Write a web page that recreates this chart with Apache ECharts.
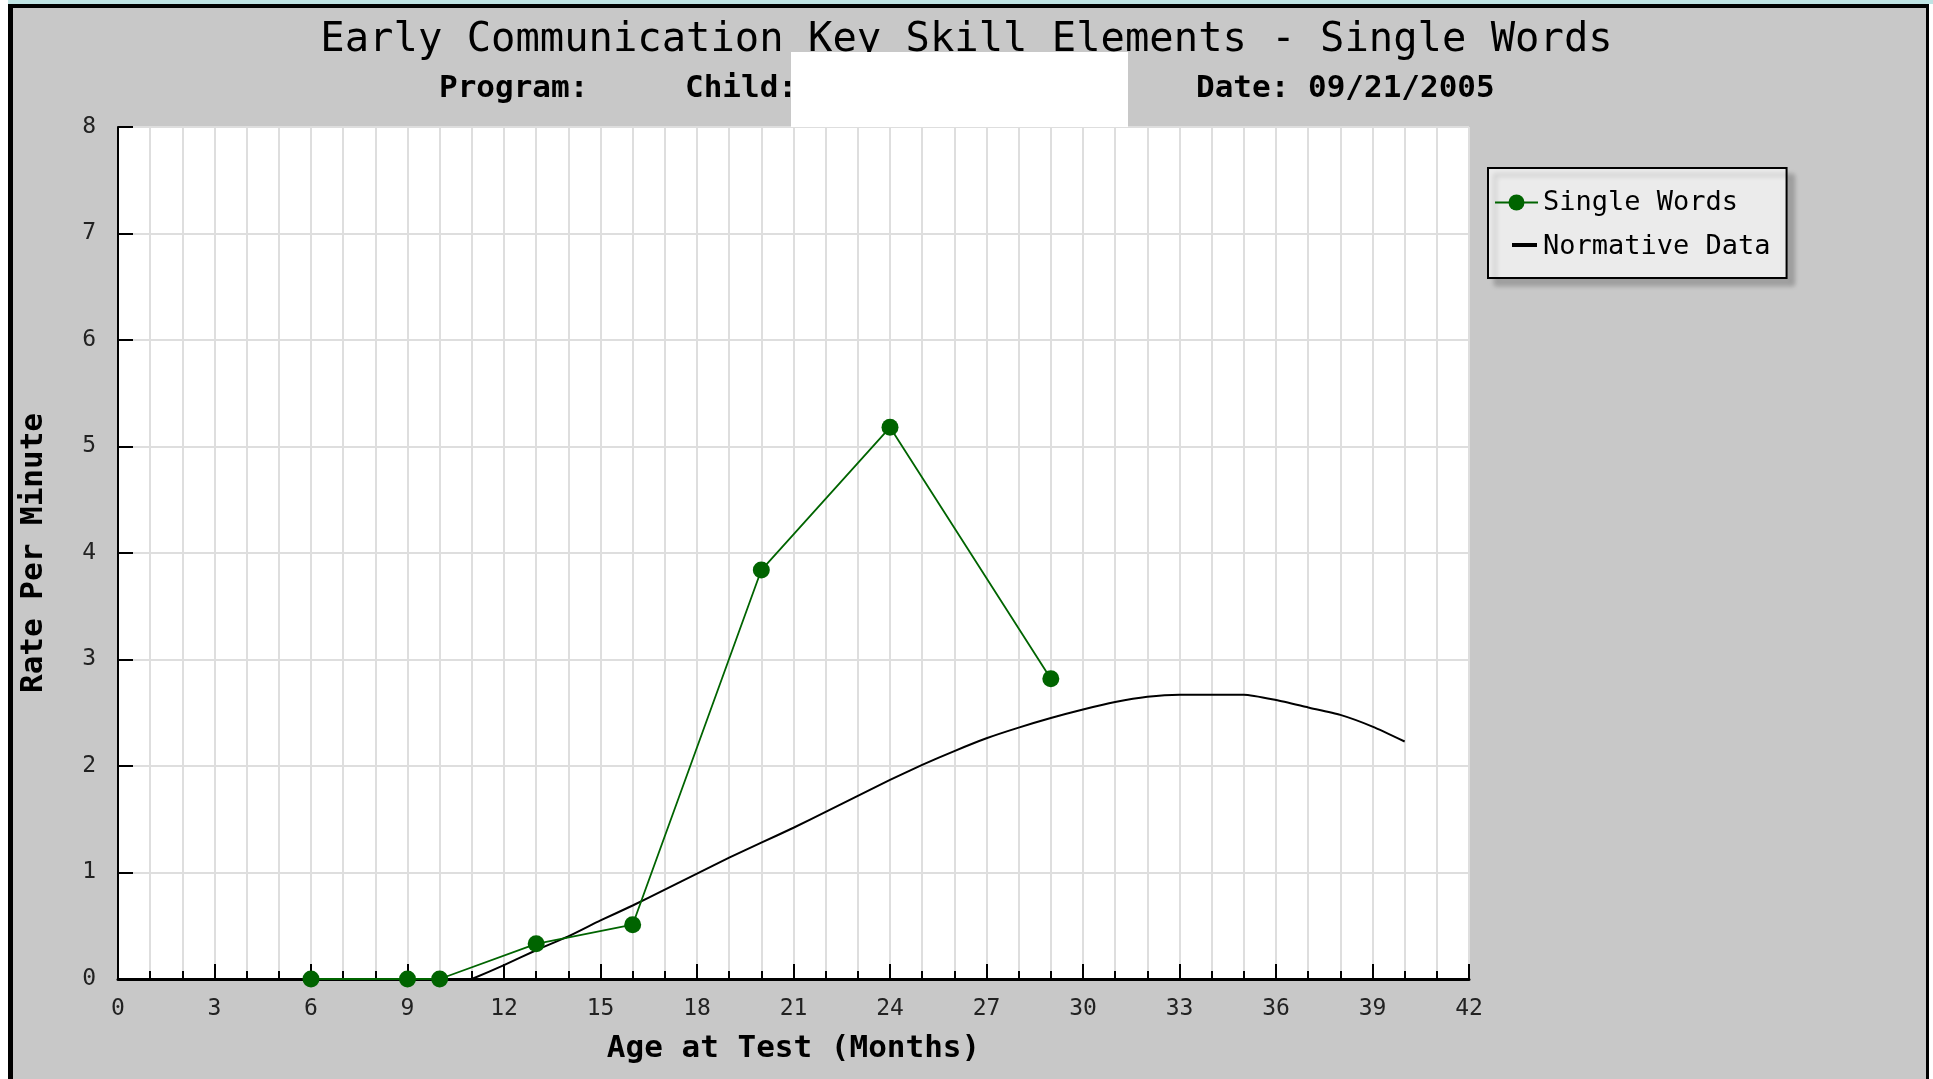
<!DOCTYPE html>
<html>
<head>
<meta charset="utf-8">
<script src="https://cdn.jsdelivr.net/npm/echarts@6/dist/echarts.min.js"></script>
<style>
  body { margin: 0; background: #fff; overflow: hidden; }
  #strip { position: absolute; left: 8px; top: 0; width: 1925px; height: 4px; background: #bfe3e3; }
  #frame { position: absolute; left: 8px; top: 4px; width: 1921px; height: 1075px; background: #c8c8c8;
           border-left: 5px solid #000; border-top: 4px solid #000; border-right: 3px solid #000; box-sizing: border-box; }
  #visualisation { position: absolute; left: 0; top: 0; width: 1933px; height: 1079px; }
</style>
</head>
<body>
<div id="strip"></div>
<div id="frame"></div>
<div id="visualisation"></div>
<script>
// Metingen van het kind (leeftijd in maanden, woorden per minuut)
const ageMonths = [6, 9, 10, 13, 16, 20, 24, 29];
const singleWords = [0, 0, 0, 0.33, 0.51, 3.84, 5.18, 2.82];

// Normatieve curve
const normAge = [11, 12, 13, 14, 15, 16, 17, 18, 19, 20, 21, 22, 23, 24, 25, 26, 27, 28, 29, 30, 31, 32, 33, 34, 35, 36, 37, 38, 39, 40];
const normRate = [0, 0.13, 0.27, 0.40, 0.55, 0.69, 0.84, 0.99, 1.14, 1.28, 1.42, 1.57, 1.72, 1.87, 2.01, 2.14, 2.26, 2.36, 2.45, 2.53, 2.60, 2.65, 2.67, 2.67, 2.67, 2.62, 2.55, 2.48, 2.37, 2.23];

const mono = 'DejaVu Sans Mono';

function drawVisualisation() {
    let visualisation = echarts.init(document.getElementById('visualisation'));

    let option = {
        animation: false,
        title: {
            text: 'Early Communication Key Skill Elements - Single Words',
            left: 'center',
            top: 15,
            textStyle: { fontFamily: mono, fontSize: 40.5, fontWeight: 'normal', color: '#000' }
        },
        graphic: [
            { type: 'text', left: 439, top: 73, style: { text: 'Program:', font: 'bold 31px "DejaVu Sans Mono"', fill: '#000' } },
            { type: 'text', left: 685, top: 73, style: { text: 'Child:', font: 'bold 31px "DejaVu Sans Mono"', fill: '#000' } },
            { type: 'text', left: 1196, top: 73, style: { text: 'Date: 09/21/2005', font: 'bold 31px "DejaVu Sans Mono"', fill: '#000' } },
            { type: 'rect', shape: { x: 791, y: 52, width: 337, height: 75 }, style: { fill: '#fff' }, z: 100 },
            // kort streepje als legenda-icoon voor de normcurve
            { type: 'rect', shape: { x: 1512, y: 243, width: 25, height: 4 }, style: { fill: '#000' }, z: 100 }
        ],
        legend: {
            orient: 'vertical',
            left: 1488,
            top: 168,
            padding: [21, 16, 18, 6],
            itemGap: 17,
            itemWidth: 43,
            itemHeight: 20,
            backgroundColor: '#ebebeb',
            borderColor: '#000',
            borderWidth: 2,
            shadowColor: 'rgba(0,0,0,0.2)',
            shadowOffsetX: 7,
            shadowOffsetY: 7,
            shadowBlur: 5,
            textStyle: { fontFamily: mono, fontSize: 27, color: '#000', lineHeight: 27 },
            data: [
                { name: 'Single Words' },
                { name: 'Normative Data', icon: 'none' }
            ]
        },
        grid: { left: 118, right: 464, top: 127, bottom: 100, backgroundColor: '#fff', show: true, borderWidth: 0 },
        xAxis: {
            type: 'value',
            min: 0,
            max: 42,
            interval: 3,
            name: 'Age at Test (Months)',
            nameLocation: 'middle',
            nameGap: 54,
            nameTextStyle: { fontFamily: mono, fontSize: 31, fontWeight: 'bold', color: '#000' },
            axisLine: { lineStyle: { color: '#000', width: 3 } },
            axisTick: { inside: true, length: 15, lineStyle: { color: '#000', width: 2 } },
            minorTick: { show: true, splitNumber: 3, length: 8, lineStyle: { color: '#000', width: 2 } },
            axisLabel: { margin: 19, fontFamily: mono, fontSize: 23, color: '#222' },
            splitLine: { show: true, lineStyle: { color: '#dedede', width: 2 } },
            minorSplitLine: { show: true, lineStyle: { color: '#dedede', width: 2 } }
        },
        yAxis: {
            type: 'value',
            min: 0,
            max: 8,
            interval: 1,
            name: 'Rate Per Minute',
            nameLocation: 'middle',
            nameGap: 69,
            nameTextStyle: { fontFamily: mono, fontSize: 31, fontWeight: 'bold', color: '#000' },
            axisLine: { show: true, lineStyle: { color: '#000', width: 2 } },
            axisTick: { show: true, inside: true, length: 15, lineStyle: { color: '#000', width: 2 } },
            axisLabel: { margin: 22, fontFamily: mono, fontSize: 23, color: '#222' },
            splitLine: { show: true, lineStyle: { color: '#dedede', width: 2 } }
        },
        series: [
            {
                name: 'Single Words',
                type: 'line',
                data: ageMonths.map((a, i) => [a, singleWords[i]]),
                symbol: 'circle',
                symbolSize: 17,
                itemStyle: { color: '#006400' },
                lineStyle: { color: '#006400', width: 1.8 },
                z: 5
            },
            {
                name: 'Normative Data',
                type: 'line',
                data: normAge.map((a, i) => [a, normRate[i]]),
                symbol: 'none',
                smooth: 0.2,
                itemStyle: { color: '#000' },
                lineStyle: { color: '#000', width: 2 },
                z: 3
            }
        ]
    };

    visualisation.setOption(option);
}

window.addEventListener('load', drawVisualisation);
</script>
</body>
</html>
